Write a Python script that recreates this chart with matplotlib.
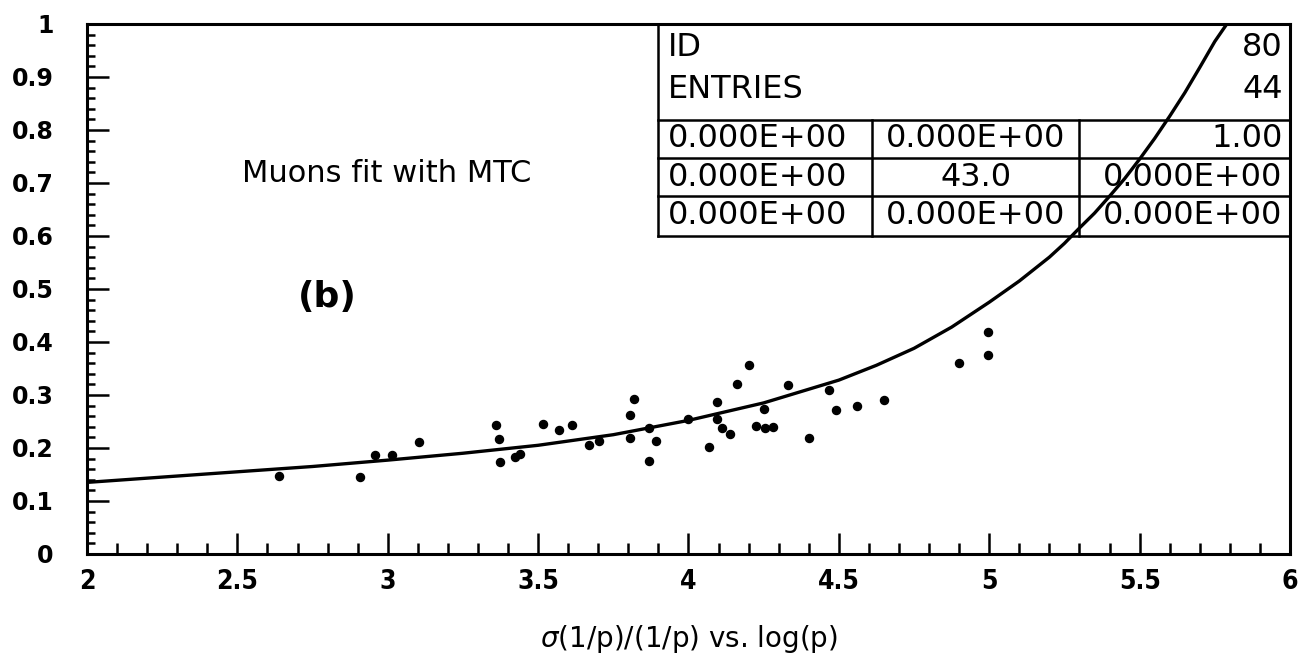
import numpy as np
import matplotlib
matplotlib.use('Agg')
import matplotlib.pyplot as plt
from matplotlib.ticker import MultipleLocator, FixedLocator, FixedFormatter

# measured points (44 entries in the histogram, some overlap)
log_p = [2.637, 2.908, 2.958, 3.013, 3.105, 3.361, 3.369, 3.374, 3.424, 3.441,
         3.515, 3.571, 3.613, 3.668, 3.704, 3.805, 3.807, 3.818, 3.870, 3.870,
         3.891, 4.000, 4.067, 4.095, 4.096, 4.110, 4.137, 4.162, 4.200, 4.223,
         4.251, 4.256, 4.282, 4.330, 4.400, 4.467, 4.489, 4.561, 4.651, 4.898,
         4.995, 4.997]
sigma_rel = [0.147, 0.146, 0.186, 0.186, 0.211, 0.244, 0.216, 0.174, 0.182, 0.188,
             0.245, 0.234, 0.244, 0.205, 0.213, 0.219, 0.263, 0.293, 0.238, 0.175,
             0.213, 0.254, 0.202, 0.286, 0.254, 0.237, 0.227, 0.320, 0.356, 0.242,
             0.274, 0.238, 0.239, 0.318, 0.218, 0.310, 0.272, 0.280, 0.291, 0.360,
             0.375, 0.418]

# fit curve
fit_x = [2.0, 2.25, 2.5, 2.75, 3.0, 3.25, 3.5, 3.75, 4.0, 4.25, 4.5, 4.625,
         4.75, 4.875, 5.0, 5.1, 5.2, 5.25, 5.3, 5.35, 5.4, 5.45, 5.5, 5.55,
         5.6, 5.65, 5.7, 5.75, 5.79]
fit_y = [0.135, 0.145, 0.155, 0.165, 0.177, 0.19, 0.205, 0.225, 0.252, 0.285,
         0.328, 0.356, 0.388, 0.428, 0.475, 0.515, 0.56, 0.586, 0.615, 0.643,
         0.675, 0.708, 0.745, 0.784, 0.826, 0.87, 0.918, 0.967, 1.0]

# stats box contents
box_head = [('ID', '80'), ('ENTRIES', '44')]
box_rows = [['0.000E+00', '0.000E+00', '1.00'],
            ['0.000E+00', '43.0', '0.000E+00'],
            ['0.000E+00', '0.000E+00', '0.000E+00']]

xticks = [2, 2.5, 3, 3.5, 4, 4.5, 5, 5.5, 6]
xtick_labels = ['2', '2.5', '3', '3.5', '4', '4.5', '5', '5.5', '6']
yticks = [0, 0.1, 0.2, 0.3, 0.4, 0.5, 0.6, 0.7, 0.8, 0.9, 1]
ytick_labels = ['0', '0.1', '0.2', '0.3', '0.4', '0.5', '0.6', '0.7', '0.8', '0.9', '1']

plt.rcParams['font.family'] = ['DejaVu Sans']

fig = plt.figure(figsize=(13.02, 6.65), dpi=100)
ax = fig.add_axes([0.0668, 0.167, 0.924, 0.797])

ax.plot(fit_x, fit_y, color='black', lw=2.4, zorder=3)
ax.plot(log_p, sigma_rel, 'o', color='black', markersize=5.8, zorder=4)

ax.set_xlim(2, 6)
ax.set_ylim(0, 1)
for s in ax.spines.values():
    s.set_linewidth(2.2)

ax.xaxis.set_major_locator(FixedLocator(xticks))
ax.xaxis.set_major_formatter(FixedFormatter(xtick_labels))
ax.xaxis.set_minor_locator(MultipleLocator(0.1))
ax.yaxis.set_major_locator(FixedLocator(yticks))
ax.yaxis.set_major_formatter(FixedFormatter(ytick_labels))
ax.yaxis.set_minor_locator(MultipleLocator(0.02))

ax.tick_params(axis='x', which='major', direction='in', length=15, width=1.8,
               pad=11, labelsize=19)
ax.tick_params(axis='x', which='minor', direction='in', length=8, width=1.8)
ax.tick_params(axis='y', which='major', direction='in', length=16, width=1.8,
               pad=24, labelsize=17)
ax.tick_params(axis='y', which='minor', direction='in', length=6, width=1.8)
for lab in ax.get_xticklabels():
    lab.set_fontweight('bold')
    lab.set_fontstretch('condensed')
for lab in ax.get_yticklabels():
    lab.set_fontweight('bold')
ax.tick_params(top=False, right=False, which='both')

ax.set_xlabel(r'$\sigma$(1/p)/(1/p) vs. log(p)', fontsize=20, labelpad=20)

ax.text(2.516, 0.717, 'Muons fit with MTC', fontsize=22, va='center', ha='left')
ax.text(2.80, 0.484, '(b)', fontsize=26, fontweight='bold', va='center', ha='center')

# stats box (data coordinates)
bx0, bx1, bx2, bx3 = 3.9, 4.61, 5.30, 6.0
by_top, by_l1, by_l2, by_l3, by_bot = 1.0, 0.819, 0.747, 0.675, 0.6
lw_box = 1.8
ax.plot([bx0, bx0], [by_bot, by_top], color='black', lw=lw_box, zorder=2)
ax.plot([bx0, bx3], [by_bot, by_bot], color='black', lw=lw_box, zorder=2)
for yy in [by_l1, by_l2, by_l3]:
    ax.plot([bx0, bx3], [yy, yy], color='black', lw=lw_box, zorder=2)
ax.plot([bx1, bx1], [by_bot, by_l1], color='black', lw=lw_box, zorder=2)
ax.plot([bx2, bx2], [by_bot, by_l1], color='black', lw=lw_box, zorder=2)

fs_box = 23
head_y = [0.956, 0.877]
for (name, val), yy in zip(box_head, head_y):
    ax.text(bx0 + 0.03, yy, name, fontsize=fs_box, va='center', ha='left')
    ax.text(bx3 - 0.025, yy, val, fontsize=fs_box, va='center', ha='right')
row_y = [0.783, 0.711, 0.638]
for row, yy in zip(box_rows, row_y):
    ax.text(bx0 + 0.03, yy, row[0], fontsize=fs_box, va='center', ha='left')
    ax.text((bx1 + bx2) / 2, yy, row[1], fontsize=fs_box, va='center', ha='center')
    ax.text(bx3 - 0.025, yy, row[2], fontsize=fs_box, va='center', ha='right')

fig.savefig('out.png', dpi=100)
